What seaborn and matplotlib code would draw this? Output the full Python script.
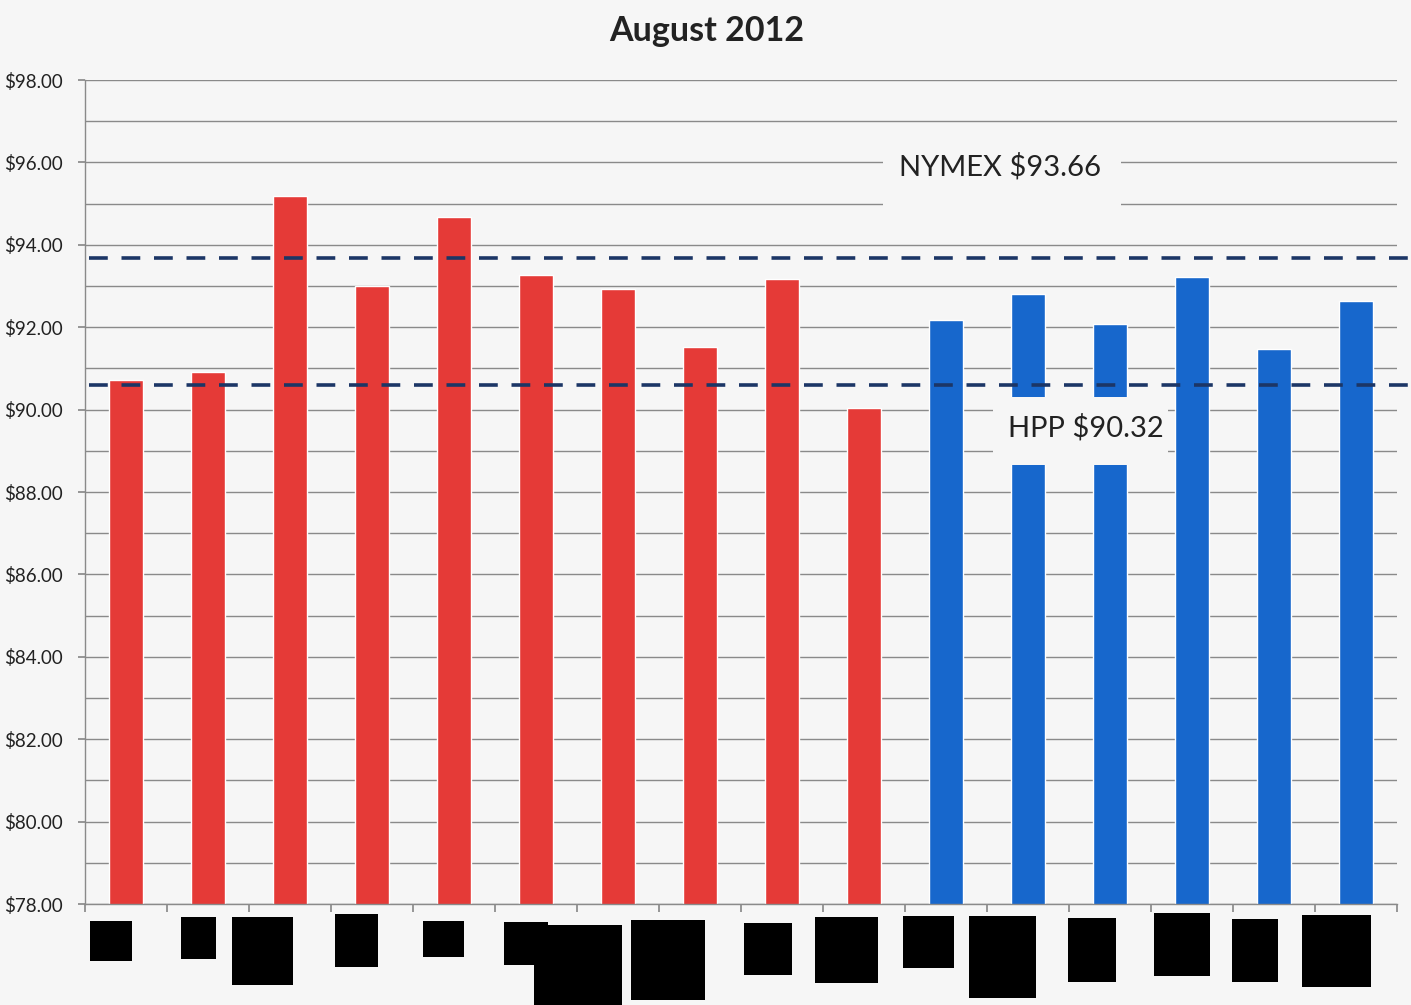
import numpy as np
import pandas as pd
import matplotlib
matplotlib.use("Agg")
import matplotlib.pyplot as plt
import seaborn as sns
from matplotlib.ticker import MultipleLocator, FuncFormatter
from matplotlib.patches import Rectangle

# ---- data ----
categories = [f"S{i}" for i in range(1, 17)]
values = [90.72, 90.91, 95.18, 93.00, 94.67, 93.27, 92.93, 91.52, 93.17, 90.04,
          92.17, 92.81, 92.08, 93.22, 91.47, 92.64]
groups = ["red"] * 10 + ["blue"] * 6
nymex_value = 93.68
hpp_value = 90.60
nymex_label = "NYMEX $93.66"
hpp_label = "HPP $90.32"
title = "August 2012"

df = pd.DataFrame({"cat": categories, "val": values, "grp": groups})

BG = "#f6f6f6"
RED = "#e53a37"
BLUE = "#1767cc"
NAVY = "#1c3666"

sns.set_theme(style="white")
plt.rcParams["font.family"] = ["Lato", "DejaVu Sans"]

fig = plt.figure(figsize=(14.11, 10.05), dpi=100, facecolor=BG)
ax = fig.add_axes([85/1411, 1-904/1005, (1397-85)/1411, (904-80)/1005])
ax.set_facecolor(BG)

sns.barplot(data=df, x="cat", y="val", hue="grp", palette={"red": RED, "blue": BLUE},
            width=0.415, dodge=False, legend=False, ax=ax, zorder=2, saturation=1)

ax.set_ylim(78, 98)
ax.set_xlim(-0.5, 15.5)
ax.yaxis.set_major_locator(MultipleLocator(2))
ax.yaxis.set_minor_locator(MultipleLocator(1))
ax.yaxis.set_major_formatter(FuncFormatter(lambda v, p: f"${v:.2f}"))
ax.grid(which="both", axis="y", color="#8a8a8a", linewidth=1.0, zorder=0)
ax.set_axisbelow(True)
ax.tick_params(axis="y", which="major", length=5, color="#8a8a8a", labelsize=13.5,
               labelcolor="#222222", pad=11, left=True)
ax.tick_params(axis="y", which="minor", length=0)
ax.set_xticks(np.arange(-0.5, 16, 1))
ax.set_xticklabels([""] * 17)
ax.tick_params(axis="x", length=6, color="#8a8a8a", bottom=True)
ax.set_xlabel("")
ax.set_ylabel("")
for s in ["top", "right"]:
    ax.spines[s].set_visible(False)
for s in ["left", "bottom"]:
    ax.spines[s].set_color("#8a8a8a")
    ax.spines[s].set_linewidth(1.0)

# reference lines
for v in (nymex_value, hpp_value):
    ax.axhline(v, xmin=0.003, xmax=1.01, color=NAVY, linewidth=2.6,
               dashes=(5.2, 3.8), zorder=4, clip_on=False)

# label boxes (white background like the original text boxes)
ax.add_patch(Rectangle((9.23, 94.75), 2.9, 1.65, facecolor=BG, edgecolor="none", zorder=3))
ax.text(10.66, 95.9, nymex_label, ha="center", va="center", fontsize=21,
        color="#222222", zorder=5)
ax.add_patch(Rectangle((10.57, 88.66), 2.14, 1.65, facecolor=BG, edgecolor="none", zorder=3))
ax.text(11.7, 89.55, hpp_label, ha="center", va="center", fontsize=21,
        color="#222222", zorder=5)

fig.suptitle(title, x=707/1411, y=1-31/1005, va="center", fontsize=24.5,
             fontweight="bold", color="#222222")

# redaction boxes over the category labels (pixel boxes x0, y0, x1, y1)
redactions = [(90, 921, 132, 961), (181, 917, 216, 959), (232, 917, 293, 985),
              (335, 914, 378, 967), (423, 921, 464, 957), (504, 922, 548, 965),
              (534, 925, 622, 1005), (631, 920, 705, 1000), (744, 923, 792, 975),
              (815, 917, 878, 983), (903, 916, 954, 968), (969, 916, 1036, 998),
              (1068, 918, 1116, 982), (1154, 913, 1210, 976), (1232, 919, 1278, 982),
              (1302, 915, 1371, 987)]
for x0, y0, x1, y1 in redactions:
    fig.patches.append(Rectangle((x0/1411, 1-y1/1005), (x1-x0)/1411, (y1-y0)/1005,
                                 transform=fig.transFigure, facecolor="black",
                                 edgecolor="none"))

fig.savefig("out.png", dpi=100, facecolor=BG)
